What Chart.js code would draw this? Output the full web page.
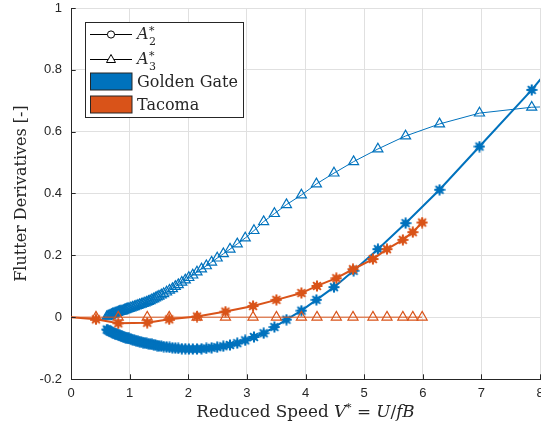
<!DOCTYPE html>
<html>
<head>
<meta charset="utf-8">
<script src="https://cdn.jsdelivr.net/npm/chart.js@4.4.1/dist/chart.umd.min.js"></script>
<style>
  html, body { margin: 0; padding: 0; background: #fff; }
</style>
</head>
<body>
<canvas id="flutter" width="541" height="430"></canvas>
<script>
// Golden Gate: reduced speed and flutter derivatives A2*, A3*
const ggSpeed = [0.61, 0.63, 0.65, 0.67, 0.69, 0.71, 0.73, 0.75, 0.77, 0.79,
  0.81, 0.83, 0.85, 0.87, 0.89, 0.91, 0.93, 0.95, 0.97, 0.99,
  1.02, 1.05, 1.08, 1.11, 1.14, 1.17, 1.20, 1.23, 1.26, 1.29,
  1.32, 1.35, 1.38, 1.41, 1.44, 1.47, 1.50,
  1.54, 1.58, 1.63, 1.68, 1.73, 1.78, 1.83, 1.89, 1.95,
  2.010, 2.077, 2.149, 2.226, 2.309, 2.398, 2.494, 2.599, 2.712, 2.836,
  2.972, 3.121, 3.286, 3.470, 3.675, 3.930, 4.186, 4.486, 4.820, 5.235,
  5.707, 6.286, 6.968, 7.859, 9.000];
const ggA2 = [-0.040, -0.042, -0.044, -0.046, -0.048, -0.050, -0.052, -0.053, -0.055, -0.056,
  -0.058, -0.059, -0.061, -0.062, -0.063, -0.065, -0.066, -0.067, -0.068, -0.069,
  -0.071, -0.073, -0.075, -0.076, -0.078, -0.079, -0.081, -0.082, -0.083, -0.085,
  -0.086, -0.087, -0.088, -0.089, -0.090, -0.092, -0.093,
  -0.094, -0.095, -0.096, -0.098, -0.099, -0.100, -0.101, -0.102, -0.102,
  -0.103, -0.103, -0.103, -0.102, -0.101, -0.099, -0.097, -0.094, -0.090, -0.084,
  -0.075, -0.064, -0.052, -0.032, -0.008, 0.021, 0.056, 0.097, 0.150, 0.220,
  0.304, 0.412, 0.552, 0.735, 1.000];
const ggA3 = [0.001, 0.003, 0.005, 0.006, 0.008, 0.010, 0.011, 0.013, 0.014, 0.015,
  0.017, 0.018, 0.019, 0.020, 0.021, 0.023, 0.024, 0.026, 0.027, 0.028,
  0.030, 0.032, 0.034, 0.036, 0.038, 0.040, 0.042, 0.044, 0.046, 0.048,
  0.051, 0.053, 0.056, 0.059, 0.062, 0.065, 0.068,
  0.072, 0.076, 0.081, 0.087, 0.092, 0.099, 0.105, 0.113, 0.120,
  0.128, 0.136, 0.146, 0.156, 0.166, 0.178, 0.191, 0.205, 0.220, 0.237,
  0.256, 0.280, 0.309, 0.335, 0.364, 0.395, 0.431, 0.466, 0.503, 0.544,
  0.586, 0.625, 0.660, 0.679, 0.686];

// Tacoma
const tacSpeed = [0, 0.426, 0.806, 1.30, 1.675, 2.15, 2.635, 3.105, 3.504, 3.93,
  4.196, 4.526, 4.81, 5.15, 5.39, 5.66, 5.83, 5.99];
const tacA2 = [0, -0.007, -0.020, -0.018, -0.007, 0.002, 0.018, 0.036, 0.056, 0.078,
  0.101, 0.126, 0.155, 0.188, 0.220, 0.250, 0.275, 0.306];
const tacA3 = [0, 0.000, 0.000, 0.000, 0.000, 0.000, 0.000, 0.000, 0.000, 0.000,
  0.000, 0.000, 0.000, 0.000, 0.000, 0.000, 0.000, 0.000];

const xTicks = [0, 1, 2, 3, 4, 5, 6, 7, 8];
const yTicks = [-0.2, 0, 0.2, 0.4, 0.6, 0.8, 1];

const BLUE = "#0072BD";
const ORANGE = "#D95319";
const INK = "#262626";
const SERIF = "'DejaVu Serif', serif";
const SANS = "'Liberation Sans', Arial, sans-serif";

function pts(xs, ys) {
  return xs.map((x, i) => ({ x: x, y: ys[i] }));
}

// filled asterisk-like marker
function makeStar(color) {
  const c = document.createElement("canvas");
  c.width = 12;
  c.height = 12;
  const g = c.getContext("2d");
  g.translate(6, 6);
  g.fillStyle = color;
  g.strokeStyle = color;
  g.beginPath();
  g.arc(0, 0, 3.6, 0, Math.PI * 2);
  g.fill();
  g.lineWidth = 2;
  for (let k = 0; k < 4; k++) {
    const a = (k * Math.PI) / 4;
    g.beginPath();
    g.moveTo(-5.5 * Math.cos(a), -5.5 * Math.sin(a));
    g.lineTo(5.5 * Math.cos(a), 5.5 * Math.sin(a));
    g.stroke();
  }
  return c;
}
const blueStar = makeStar(BLUE);
const orangeStar = makeStar(ORANGE);

const noFirst = (r) => (ctx) => (ctx.dataIndex === 0 ? 0 : r);

const decor = {
  id: "decor",
  afterDraw(chart) {
    const ctx = chart.ctx;
    const a = chart.chartArea;
    const xs = chart.scales.x;
    const ys = chart.scales.y;
    ctx.save();

    // inward tick marks
    ctx.strokeStyle = INK;
    ctx.lineWidth = 1;
    ctx.beginPath();
    xTicks.forEach((v) => {
      const px = Math.round(xs.getPixelForValue(v)) + 0.5;
      ctx.moveTo(px, a.bottom);
      ctx.lineTo(px, a.bottom - 4.7);
    });
    yTicks.forEach((v) => {
      const py = Math.round(ys.getPixelForValue(v)) + 0.5;
      ctx.moveTo(a.left, py);
      ctx.lineTo(a.left + 4.7, py);
    });
    ctx.stroke();

    // x title with math parts
    const roman = "16px " + SERIF;
    const ital = "italic 16px " + SERIF;
    const small = "11px " + SERIF;
    const titleR = "16.8px " + SERIF;
    const titleI = "italic 16.8px " + SERIF;
    const parts = [
      ["Reduced Speed ", titleR, 0],
      ["V", titleI, 0],
      ["*", small, -6],
      [" = ", titleR, 0],
      ["U", titleI, 0],
      ["/", titleR, 0],
      ["f", titleI, 0],
      ["B", titleI, 0],
    ];
    let total = 0;
    parts.forEach((p) => {
      ctx.font = p[1];
      total += ctx.measureText(p[0]).width;
    });
    let cx = (a.left + a.right) / 2 - total / 2;
    ctx.fillStyle = INK;
    ctx.textBaseline = "alphabetic";
    ctx.textAlign = "left";
    parts.forEach((p) => {
      ctx.font = p[1];
      ctx.fillText(p[0], cx, 417 + p[2]);
      cx += ctx.measureText(p[0]).width;
    });

    // legend
    const lx = 85.5, ly = 22.5, lw = 158, lh = 95;
    ctx.fillStyle = "#fff";
    ctx.fillRect(lx, ly, lw, lh);
    ctx.strokeStyle = INK;
    ctx.lineWidth = 1;
    ctx.strokeRect(lx, ly, lw, lh);

    const entryA = (y, sub, marker) => {
      ctx.strokeStyle = "#000";
      ctx.lineWidth = 1;
      ctx.beginPath();
      ctx.moveTo(90, y);
      ctx.lineTo(132, y);
      ctx.stroke();
      ctx.fillStyle = "#fff";
      ctx.beginPath();
      if (marker === "circle") {
        ctx.arc(111, y, 3.6, 0, Math.PI * 2);
      } else {
        ctx.moveTo(111, y - 5);
        ctx.lineTo(115.5, y + 3);
        ctx.lineTo(106.5, y + 3);
        ctx.closePath();
      }
      ctx.fill();
      ctx.stroke();
      ctx.fillStyle = INK;
      ctx.font = ital;
      ctx.fillText("A", 137, y + 4.5);
      const w = ctx.measureText("A").width;
      ctx.font = small;
      ctx.fillText(sub, 137 + w + 0.5, y + 10);
      ctx.fillText("*", 137 + w + 0.5, y - 1);
    };
    entryA(34.5, "2", "circle");
    entryA(59.5, "3", "triangle");

    const entryB = (y, color, label) => {
      ctx.fillStyle = color;
      ctx.fillRect(90.5, y, 41.5, 17);
      ctx.strokeStyle = INK;
      ctx.strokeRect(90.5, y, 41.5, 17);
      ctx.fillStyle = INK;
      ctx.font = roman;
      ctx.fillText(label, 137, y + 13.5);
    };
    entryB(73, BLUE, "Golden Gate");
    entryB(96, ORANGE, "Tacoma");

    ctx.restore();
  },
};

new Chart(document.getElementById("flutter"), {
  type: "line",
  data: {
    datasets: [
      {
        label: "Tacoma A2",
        data: pts(tacSpeed, tacA2),
        borderColor: ORANGE,
        borderWidth: 2,
        pointStyle: orangeStar,
        pointRadius: noFirst(4.5),
        order: 0,
      },
      {
        label: "Tacoma A3",
        data: pts(tacSpeed, tacA3),
        borderColor: ORANGE,
        borderWidth: 1,
        pointStyle: "triangle",
        pointRadius: noFirst(5.8),
        pointBorderWidth: 1.2,
        pointBorderColor: ORANGE,
        pointBackgroundColor: "rgba(0,0,0,0)",
        order: 1,
      },
      {
        label: "Golden Gate A2",
        data: pts(ggSpeed, ggA2),
        borderColor: BLUE,
        borderWidth: 2,
        pointStyle: blueStar,
        pointRadius: 4.5,
        order: 2,
      },
      {
        label: "Golden Gate A3",
        data: pts(ggSpeed, ggA3),
        borderColor: BLUE,
        borderWidth: 1,
        pointStyle: "triangle",
        pointRadius: 5.8,
        pointBorderWidth: 1.2,
        pointBorderColor: BLUE,
        pointBackgroundColor: "rgba(0,0,0,0)",
        order: 3,
      },
    ],
  },
  options: {
    responsive: false,
    animation: false,
    layout: { autoPadding: false, padding: { top: 8, right: 1, bottom: 0, left: 0 } },
    plugins: { legend: { display: false }, tooltip: { enabled: false } },
    elements: { line: { tension: 0 } },
    scales: {
      x: {
        type: "linear",
        min: 0,
        max: 8,
        afterBuildTicks: (s) => { s.ticks = xTicks.map((v) => ({ value: v })); },
        afterFit: (s) => { s.height = 51; s.paddingLeft = 0; s.paddingRight = 0; },
        grid: { color: "#e0e0e0", drawTicks: false },
        border: { color: INK, width: 1 },
        ticks: { color: INK, padding: 7, maxRotation: 0, font: { family: SANS, size: 13 } },
      },
      y: {
        min: -0.2,
        max: 1,
        afterBuildTicks: (s) => { s.ticks = yTicks.map((v) => ({ value: v })); },
        afterFit: (s) => { s.width = 71; s.paddingTop = 0; s.paddingBottom = 0; },
        grid: { color: "#e0e0e0", drawTicks: false },
        border: { color: INK, width: 1 },
        ticks: {
          color: INK,
          padding: 9,
          font: { family: SANS, size: 13 },
          callback: (v) => String(Math.round(v * 10) / 10),
        },
        title: {
          display: true,
          text: "Flutter Derivatives [-]",
          color: INK,
          padding: { top: 12, bottom: 0 },
          font: { family: SERIF, size: 16 },
        },
      },
    },
  },
  plugins: [decor],
});
</script>
</body>
</html>
